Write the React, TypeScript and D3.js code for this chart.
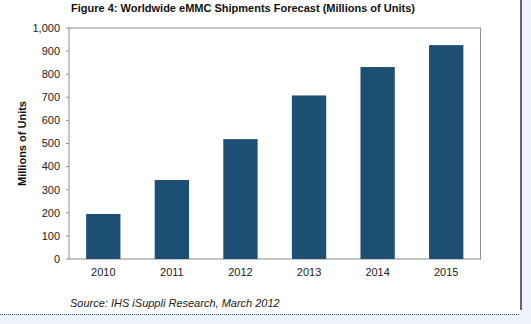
import React from "react";
import * as d3 from "d3";

const categories = ["2010", "2011", "2012", "2013", "2014", "2015"];
const values = [195, 342, 519, 708, 831, 926];
const yTicks = [0, 100, 200, 300, 400, 500, 600, 700, 800, 900, 1000];

const W = 531, H = 324;
const plot = { left: 69, right: 480.5, top: 28, bottom: 259 };

export default function App() {
  const x = d3.scaleBand<string>().domain(categories).range([plot.left, plot.right]).paddingInner(0.5).paddingOuter(0.25);
  const y = d3.scaleLinear().domain([0, 1000]).range([plot.bottom, plot.top]);
  const fmt = d3.format(",");
  const font = "'Liberation Sans', Arial, sans-serif";
  return (
    <svg width={W} height={H} style={{ position: "absolute", left: 0, top: 0 }} fontFamily={font}>
      <rect x={0} y={0} width={W} height={H} fill="#eef3fa" />
      <rect x={0} y={0} width={521} height={313} fill="#ffffff" />
      <line x1={521} x2={521} y1={0} y2={310} stroke="#000" strokeWidth={1.2} />
      <line x1={0} x2={520} y1={314.5} y2={314.5} stroke="#3a5f8a" strokeWidth={1} strokeDasharray="1,1" />
      <text x={243} y={12} textAnchor="middle" fontSize={11} fontWeight="bold" fill="#111">
        Figure 4: Worldwide eMMC Shipments Forecast (Millions  of Units)
      </text>
      <rect x={plot.left} y={plot.top} width={plot.right - plot.left} height={plot.bottom - plot.top} fill="none" stroke="#8f8f8f" strokeWidth={1} />
      {yTicks.map((t) => (
        <g key={t}>
          <line x1={plot.left - 3} x2={plot.left} y1={y(t)} y2={y(t)} stroke="#8f8f8f" />
          <text x={60} y={y(t)} dy="0.35em" textAnchor="end" fontSize={11} fill="#222">{fmt(t)}</text>
        </g>
      ))}
      <text transform={`translate(26,${(plot.top + plot.bottom) / 2}) rotate(-90)`} textAnchor="middle" fontSize={11} fontWeight="bold" fill="#111">
        Millions of Units
      </text>
      {categories.map((c, i) => (
        <g key={c}>
          <rect x={x(c)} y={y(values[i])} width={x.bandwidth()} height={plot.bottom - y(values[i])} fill="#1d4e74" />
          <text x={(x(c) as number) + x.bandwidth() / 2} y={276} textAnchor="middle" fontSize={11} fill="#222">{c}</text>
        </g>
      ))}
      <text x={70} y={307} fontSize={11} fontStyle="italic" fill="#222">Source: IHS iSuppli Research, March 2012</text>
    </svg>
  );
}
